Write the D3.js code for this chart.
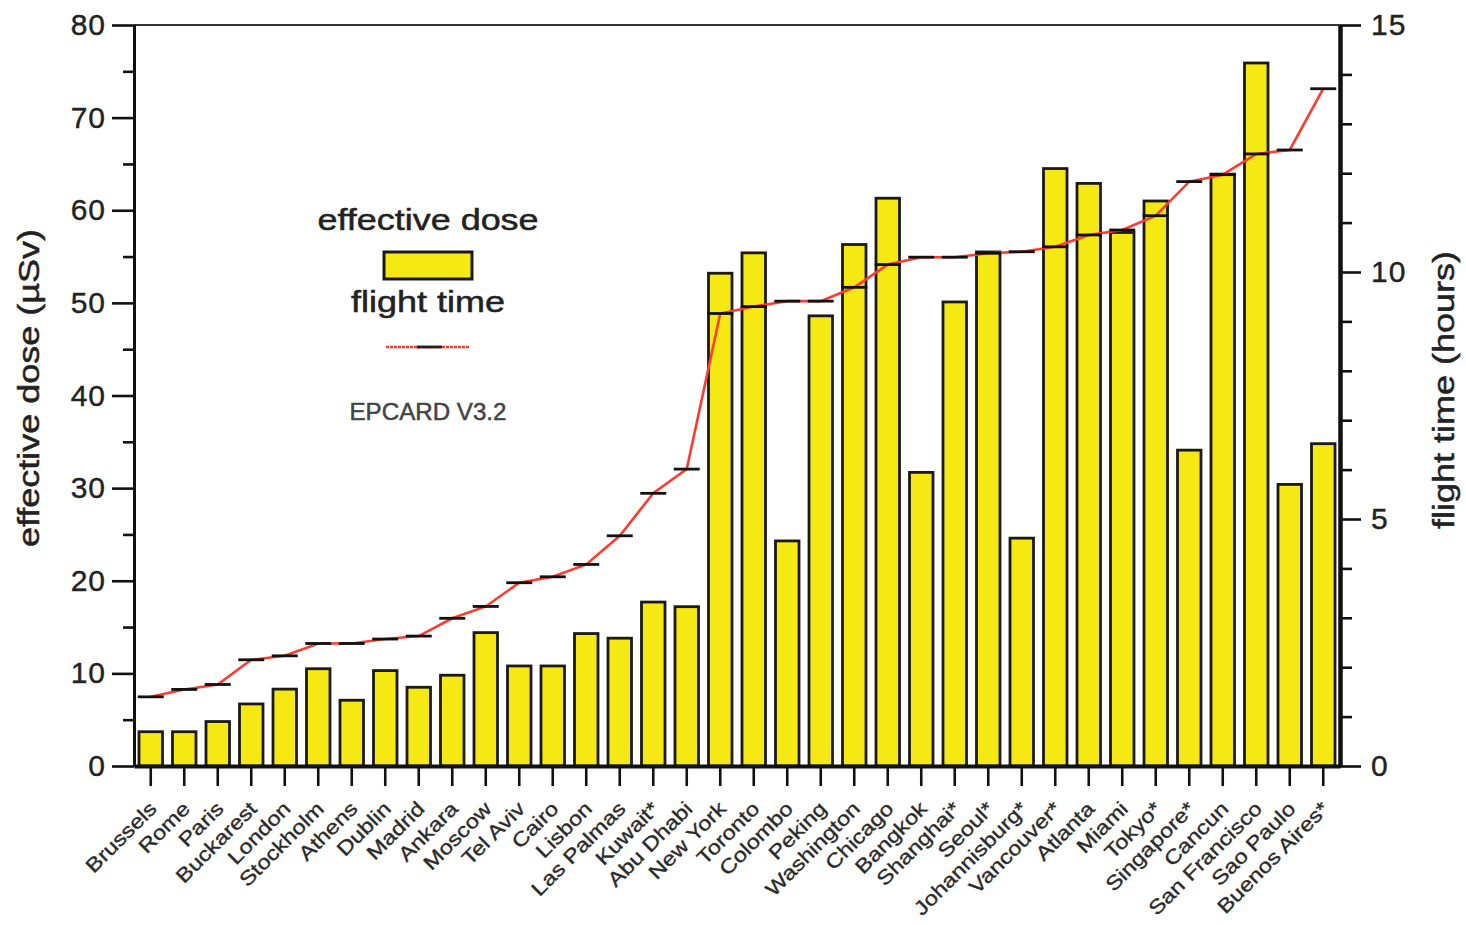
<!DOCTYPE html>
<html>
<head>
<meta charset="utf-8">
<script src="https://cdn.jsdelivr.net/npm/d3@7"></script>
<style>
  body { margin: 0; background: #fff; }
  text { font-family: "Liberation Sans", Arial, sans-serif; }
</style>
</head>
<body>
<script>
var w = 1466;
var h = 925;

// data
var cities = ["Brussels", "Rome", "Paris", "Buckarest", "London", "Stockholm", "Athens",
  "Dublin", "Madrid", "Ankara", "Moscow", "Tel Aviv", "Cairo", "Lisbon", "Las Palmas",
  "Kuwait*", "Abu Dhabi", "New York", "Toronto", "Colombo", "Peking", "Washington",
  "Chicago", "Bangkok", "Shanghai*", "Seoul*", "Johannisburg*", "Vancouver*", "Atlanta",
  "Miami", "Tokyo*", "Singapore*", "Cancun", "San Francisco", "Sao Paulo", "Buenos Aires*"];
var dose = [3.7, 3.7, 4.8, 6.7, 8.3, 10.5, 7.1, 10.3, 8.5, 9.8, 14.4, 10.8, 10.8, 14.3, 13.8,
  17.7, 17.2, 53.2, 55.4, 24.3, 48.6, 56.3, 61.3, 31.7, 50.1, 55.5, 24.6, 64.5, 62.9,
  57.6, 61.0, 34.1, 63.9, 75.9, 30.4, 34.8];
var flightTime = [1.40, 1.55, 1.65, 2.15, 2.23, 2.48, 2.48, 2.57, 2.63, 2.99, 3.23, 3.71, 3.83,
  4.08, 4.66, 5.52, 6.01, 9.16, 9.30, 9.41, 9.41, 9.69, 10.15, 10.30, 10.30, 10.38, 10.41,
  10.51, 10.75, 10.85, 11.14, 11.83, 11.97, 12.39, 12.47, 13.71];
var doseTicks = [0, 10, 20, 30, 40, 50, 60, 70, 80];
var doseMinor = [5, 15, 25, 35, 45, 55, 65, 75];
var timeTicks = [0, 5, 10, 15];
var timeMinor = [1, 2, 3, 4, 6, 7, 8, 9, 11, 12, 13, 14];

var xL = 134, xR = 1340, yT = 25, yB = 766;
var yellow = "#f6e812";
var red = "#ff3a2e";

var svg = d3.select("body").append("svg")
  .attr("width", w)
  .attr("height", h);

var x = d3.scaleBand().domain(cities).range([xL, xR]);
var y = d3.scaleLinear().domain([0, 80]).range([yB, yT]);
var y2 = d3.scaleLinear().domain([0, 15]).range([yB, yT]);
var barW = 23.5;

function cx(i) {
  return x(cities[i]) + x.bandwidth() / 2;
}

// stretched text helper (the original font is wider than Arial)
function label(str, px, py, size, rot, sx, anchor, fill) {
  return svg.append("text")
    .attr("transform", "translate(" + px + "," + py + ") rotate(" + rot + ") scale(" + sx + ",1)")
    .attr("text-anchor", anchor)
    .style("font-size", size + "px")
    .style("fill", fill)
    .style("stroke", fill)
    .style("stroke-width", 0.5)
    .text(str);
}

// bars
svg.selectAll("rect.bar")
  .data(dose)
  .enter()
  .append("rect")
    .attr("class", "bar")
    .attr("x", function(d, i) { return cx(i) - barW / 2; })
    .attr("y", function(d) { return y(d); })
    .attr("width", barW)
    .attr("height", function(d) { return y(0) - y(d); })
    .attr("fill", yellow)
    .attr("stroke", "#1a1a1a")
    .attr("stroke-width", 2.8);

// top frame line
svg.append("line")
  .attr("x1", xL).attr("x2", xR)
  .attr("y1", yT).attr("y2", yT)
  .attr("stroke", "#333").attr("stroke-width", 1.8);

function styleAxis(g, width) {
  g.select(".domain").attr("stroke", "#111").attr("stroke-width", width);
  g.selectAll(".tick line").attr("stroke", "#111").attr("stroke-width", 2.6);
  g.selectAll(".tick text")
    .style("font-size", "30px")
    .style("letter-spacing", "1px")
    .style("fill", "#222")
    .style("stroke", "#222")
    .style("stroke-width", 0.4)
    .style("font-family", "'Liberation Sans', Arial, sans-serif");
}

// left axis
svg.append("g")
  .attr("transform", "translate(" + xL + ",0)")
  .call(d3.axisLeft(y).tickValues(doseMinor).tickSize(11).tickSizeOuter(0).tickFormat(""))
  .call(styleAxis, 3);
svg.append("g")
  .attr("transform", "translate(" + xL + ",0)")
  .call(d3.axisLeft(y).tickValues(doseTicks).tickSize(22).tickSizeOuter(0).tickPadding(6))
  .call(styleAxis, 3);

// right axis
svg.append("g")
  .attr("transform", "translate(" + xR + ",0)")
  .call(d3.axisRight(y2).tickValues(timeMinor).tickSize(12).tickSizeOuter(0).tickFormat(""))
  .call(styleAxis, 4);
svg.append("g")
  .attr("transform", "translate(" + xR + ",0)")
  .call(d3.axisRight(y2).tickValues(timeTicks).tickSize(21).tickSizeOuter(0).tickPadding(10))
  .call(styleAxis, 4);

// bottom axis
var xAxis = svg.append("g")
  .attr("transform", "translate(0," + yB + ")")
  .call(d3.axisBottom(x).tickSize(20).tickSizeOuter(0))
  .call(styleAxis, 4);
xAxis.selectAll(".tick text")
  .attr("x", null).attr("y", null).attr("dy", null)
  .attr("text-anchor", "end")
  .attr("transform", "translate(7,44) rotate(-45) scale(1.18,1)")
  .style("font-size", "20px")
  .style("letter-spacing", "0px")
  .style("fill", "#2a2a2a")
  .style("stroke", "#2a2a2a")
  .style("stroke-width", 0.35);

// flight time line
var line = d3.line()
  .x(function(d, i) { return cx(i); })
  .y(function(d) { return y2(d); });
svg.append("path")
  .datum(flightTime)
  .attr("d", line)
  .attr("fill", "none")
  .attr("stroke", red)
  .attr("stroke-width", 2.6);

svg.selectAll("line.mark")
  .data(flightTime)
  .enter()
  .append("line")
    .attr("class", "mark")
    .attr("x1", function(d, i) { return cx(i) - 13; })
    .attr("x2", function(d, i) { return cx(i) + 13; })
    .attr("y1", function(d) { return y2(d); })
    .attr("y2", function(d) { return y2(d); })
    .attr("stroke", "#111")
    .attr("stroke-width", 2.8);

// axis titles
label("effective dose (\u00b5Sv)", 39, 388, 30, -90, 1.2, "middle", "#222");
label("flight time (hours)", 1454, 390, 30, -90, 1.2, "middle", "#222");

// legend
label("effective dose", 428, 230, 29, 0, 1.24, "middle", "#222");
svg.append("rect")
  .attr("x", 384).attr("y", 252)
  .attr("width", 88).attr("height", 27)
  .attr("fill", yellow)
  .attr("stroke", "#1a1a1a")
  .attr("stroke-width", 3);
label("flight time", 428, 312, 29, 0, 1.24, "middle", "#222");
svg.append("line")
  .attr("x1", 386).attr("x2", 469)
  .attr("y1", 347).attr("y2", 347)
  .attr("stroke", red).attr("stroke-width", 2.6)
  .attr("stroke-dasharray", "3,1");
svg.append("line")
  .attr("x1", 417).attr("x2", 442)
  .attr("y1", 347).attr("y2", 347)
  .attr("stroke", "#222").attr("stroke-width", 2.8);
label("EPCARD V3.2", 428, 420, 23, 0, 1.05, "middle", "#444");
</script>
</body>
</html>
